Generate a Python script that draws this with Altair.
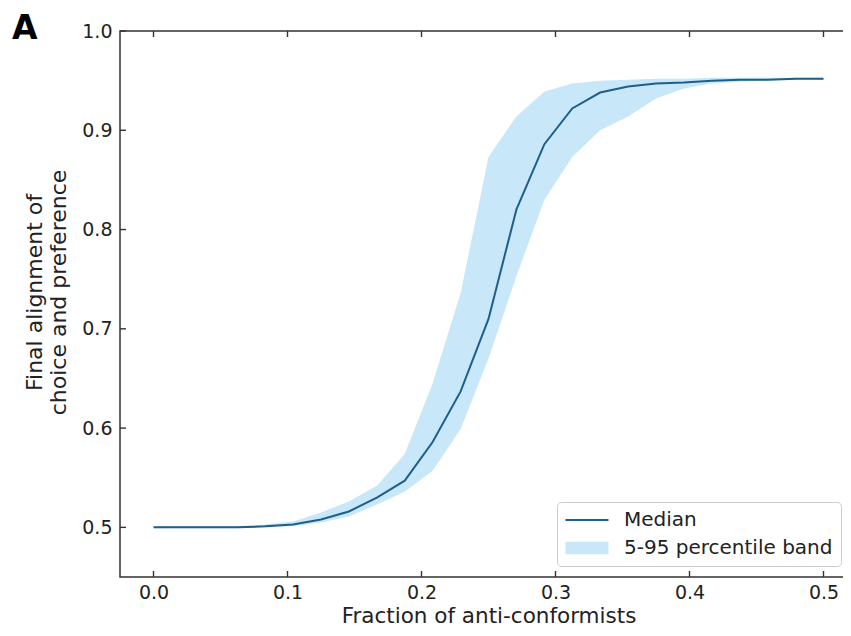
import altair as alt
import pandas as pd

# ---- data ----
frac = [0.0, 0.0208, 0.0417, 0.0625, 0.0833, 0.1042, 0.125, 0.1458, 0.1667,
        0.1875, 0.2083, 0.2292, 0.25, 0.2708, 0.2917, 0.3125, 0.3333, 0.3542,
        0.375, 0.3958, 0.4167, 0.4375, 0.4583, 0.4792, 0.5]
median = [0.500, 0.500, 0.500, 0.500, 0.501, 0.503, 0.508, 0.516, 0.530,
          0.547, 0.586, 0.637, 0.710, 0.820, 0.886, 0.922, 0.938, 0.944,
          0.947, 0.948, 0.950, 0.951, 0.951, 0.952, 0.952]
p05 = [0.499, 0.499, 0.499, 0.499, 0.500, 0.501, 0.505, 0.511, 0.523,
       0.536, 0.557, 0.599, 0.670, 0.753, 0.830, 0.873, 0.900, 0.914,
       0.932, 0.942, 0.947, 0.949, 0.950, 0.951, 0.951]
p95 = [0.501, 0.501, 0.501, 0.501, 0.503, 0.506, 0.515, 0.526, 0.542,
       0.574, 0.645, 0.736, 0.873, 0.914, 0.939, 0.947, 0.950, 0.951,
       0.952, 0.952, 0.953, 0.953, 0.953, 0.953, 0.953]
x_ticks = [0.0, 0.1, 0.2, 0.3, 0.4, 0.5]
y_ticks = [0.5, 0.6, 0.7, 0.8, 0.9, 1.0]
series = ["Median", "5-95 percentile band"]
panel_label = ["A"]

LINE = "#1d5f8a"
BAND = "#c8e7f8"
AX = "#333333"
TXT = "#222222"
FONT = "DejaVu Sans"
W, H = 737, 546

df = pd.DataFrame({"frac": frac, "median": median, "lo": p05, "hi": p95})
xs = alt.Scale(domain=[-0.025, 0.525], nice=False, zero=False)
ys = alt.Scale(domain=[0.45, 1.0], nice=False, zero=False)

band = alt.Chart(df).mark_area(color=BAND, opacity=1).encode(
    x=alt.X("frac:Q", scale=xs,
            axis=alt.Axis(values=x_ticks, format=".1f",
                          title="Fraction of anti-conformists",
                          labelPadding=6, titleFontSize=21.5,
                          titleY=45.7, titleBaseline="alphabetic")),
    y=alt.Y("lo:Q", scale=ys,
            axis=alt.Axis(values=y_ticks, format=".1f",
                          title=["Final alignment of", "choice and preference"],
                          labelPadding=8, titlePadding=11, titleFontSize=22,
                          titleY=261)),
    y2="hi:Q",
)
line = alt.Chart(df).mark_line(color=LINE, strokeWidth=2).encode(
    x="frac:Q", y="median:Q"
)

xt = alt.Chart(pd.DataFrame({"t": x_ticks}))
yt = alt.Chart(pd.DataFrame({"t": y_ticks}))
tick_style = dict(color=AX, strokeWidth=1.4)
top_ticks = xt.mark_rule(**tick_style).encode(x="t:Q", y=alt.value(0), y2=alt.value(6))
bot_ticks = xt.mark_rule(**tick_style).encode(x="t:Q", y=alt.value(H), y2=alt.value(H - 6))
left_ticks = yt.mark_rule(**tick_style).encode(y="t:Q", x=alt.value(0), x2=alt.value(6))
right_ticks = yt.mark_rule(**tick_style).encode(y="t:Q", x=alt.value(W), x2=alt.value(W - 6))

line_path = "M-2.15,-0.1H2.15V0.1H-2.15Z"
band_path = "M-2.15,-0.62H2.15V0.62H-2.15Z"
leg_props = dict(title=None, orient="none", legendX=437, legendY=471,
                 symbolSize=400, symbolOffset=12, labelOffset=27,
                 labelFontSize=20, labelFont=FONT, labelColor=TXT, labelLimit=400,
                 rowPadding=8, padding=8, fillColor="rgba(255,255,255,0.85)",
                 strokeColor="#cccccc", cornerRadius=4, symbolOpacity=1,
                 symbolStrokeWidth=0)
legend_layer = alt.Chart(pd.DataFrame({"s": series})).mark_point(
    filled=True, opacity=0
).encode(
    color=alt.Color("s:N", scale=alt.Scale(domain=series, range=[LINE, BAND]),
                    legend=alt.Legend(**leg_props)),
    shape=alt.Shape("s:N", scale=alt.Scale(domain=series, range=[line_path, band_path]),
                    legend=alt.Legend(**leg_props)),
)

label_layer = alt.Chart(pd.DataFrame({"lab": panel_label})).mark_text(
    fontSize=33, fontWeight="bold", font=FONT, color="black",
    align="left", baseline="alphabetic"
).encode(text="lab:N", x=alt.value(-108), y=alt.value(8))

chart = alt.layer(
    band, line, top_ticks, bot_ticks, left_ticks, right_ticks, legend_layer,
    label_layer
).properties(
    width=W, height=H,
    autosize=alt.AutoSizeParams(type="none"),
    padding={"left": 112, "top": 23, "right": -14, "bottom": 51},
).configure_view(
    stroke=AX, strokeWidth=1.5
).configure_axis(
    domain=False, ticks=False, grid=False,
    labelFont=FONT, labelFontSize=19, labelColor=TXT,
    titleFont=FONT, titleFontWeight="normal", titleColor=TXT,
)

chart.save("out.html", embed_options={"renderer": "svg", "actions": False})
